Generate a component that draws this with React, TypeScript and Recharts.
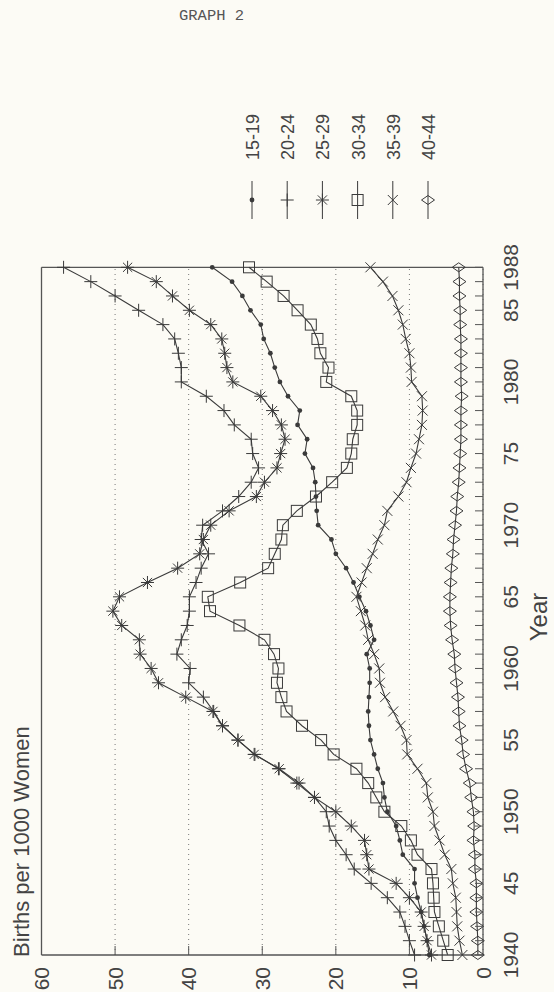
import React from 'react';
import { LineChart, Line, XAxis, YAxis, CartesianGrid, ReferenceLine, Legend } from 'recharts';

const years = [
  1940, 1941, 1942, 1943, 1944, 1945, 1946, 1947, 1948, 1949,
  1950, 1951, 1952, 1953, 1954, 1955, 1956, 1957, 1958, 1959,
  1960, 1961, 1962, 1963, 1964, 1965, 1966, 1967, 1968, 1969,
  1970, 1971, 1972, 1973, 1974, 1975, 1976, 1977, 1978, 1979,
  1980, 1981, 1982, 1983, 1984, 1985, 1986, 1987, 1988,
];

const age15to19 = [
  7.3, 7.6, 8.0, 8.4, 8.9, 9.3, 9.3, 10.9, 11.3, 11.8,
  13.0, 13.4, 13.6, 14.3, 14.8, 15.3, 15.5, 15.6, 15.5, 15.4,
  15.4, 15.8, 14.8, 15.3, 15.9, 16.8, 17.6, 18.6, 20.0, 20.6,
  22.4, 22.6, 22.7, 22.8, 23.1, 24.2, 23.9, 25.2, 24.9, 26.5,
  27.6, 28.3, 28.9, 29.8, 30.2, 31.6, 32.7, 34.1, 36.8,
];

const age20to24 = [
  9.3, 10.0, 10.6, 11.3, 13.0, 15.2, 17.5, 18.6, 20.0, 20.9,
  21.3, 22.9, 25.3, 27.8, 31.0, 33.3, 35.4, 36.6, 38.0, 40.0,
  39.8, 41.6, 41.0, 40.2, 39.9, 39.9, 39.0, 38.3, 37.3, 38.3,
  38.1, 35.4, 33.2, 31.5, 30.5, 31.3, 31.5, 33.8, 35.2, 37.6,
  41.0, 41.0, 41.4, 41.9, 43.5, 46.8, 50.0, 53.3, 57.0,
];

const age25to29 = [
  7.0, 7.6, 8.0, 8.4, 10.0, 11.8, 15.5, 15.8, 16.1, 17.9,
  20.0, 22.9, 25.0, 27.7, 31.1, 33.3, 35.4, 36.7, 40.4, 44.1,
  45.1, 46.6, 46.7, 49.1, 50.3, 49.4, 45.6, 41.5, 38.5, 38.0,
  37.0, 34.5, 30.8, 29.7, 28.0, 27.5, 26.9, 27.4, 28.6, 30.2,
  34.0, 34.8, 35.1, 35.5, 37.0, 39.9, 42.2, 44.4, 48.3,
];

const age30to34 = [
  4.8, 5.4, 6.0, 6.6, 6.7, 6.8, 7.0, 8.9, 9.8, 11.1,
  13.4, 14.5, 15.6, 17.2, 20.3, 22.0, 24.6, 26.7, 27.4, 28.0,
  27.8, 28.4, 29.7, 33.1, 37.1, 37.4, 33.0, 29.2, 28.3, 27.4,
  27.2, 25.3, 22.7, 20.5, 18.5, 17.9, 17.7, 17.1, 17.1, 17.9,
  21.3, 21.0, 22.1, 22.5, 23.4, 25.2, 27.1, 29.4, 31.8,
];

const age35to39 = [
  2.8, 3.2, 3.5, 3.6, 3.7, 4.1, 4.3, 5.2, 5.9, 6.6,
  6.8, 7.5, 7.7, 8.9, 10.3, 10.4, 11.2, 12.2, 13.3, 14.0,
  14.1, 14.8, 15.6, 16.0, 16.6, 17.2, 16.5, 15.8, 15.0, 14.3,
  13.4, 13.0, 11.5, 10.4, 9.8, 9.1, 8.7, 8.3, 8.2, 8.3,
  9.7, 9.8, 10.0, 10.5, 10.9, 11.5, 12.3, 13.6, 15.3,
];

const age40to44 = [
  0.7, 0.7, 0.8, 0.9, 0.9, 0.9, 1.1, 1.1, 1.3, 1.2,
  1.3, 1.6, 1.8, 2.3, 2.7, 2.9, 3.2, 3.3, 3.4, 3.6,
  3.8, 3.9, 4.2, 4.4, 4.5, 4.5, 4.4, 4.3, 4.1, 4.0,
  3.8, 3.6, 3.5, 3.3, 3.2, 3.1, 3.0, 3.0, 3.0, 2.9,
  3.0, 3.0, 3.0, 3.0, 3.1, 3.1, 3.2, 3.2, 3.3,
];

const seriesNames = ['15-19', '20-24', '25-29', '30-34', '35-39', '40-44'];
const seriesKeys = ['a15', 'a20', 'a25', 'a30', 'a35', 'a40'];
const seriesMarkers = ['dot', 'plus', 'star', 'square', 'cross', 'diamond'];

const yearLabelValues = [1940, 1945, 1950, 1955, 1960, 1965, 1970, 1975, 1980, 1985, 1988];
const yearLabelTexts = ['1940', '45', '1950', '55', '1960', '65', '1970', '75', '1980', '85', '1988'];
const valueTicks = [0, 10, 20, 30, 40, 50, 60];

const data = years.map((year, i) => ({
  year,
  a15: age15to19[i],
  a20: age20to24[i],
  a25: age25to29[i],
  a30: age30to34[i],
  a35: age35to39[i],
  a40: age40to44[i],
}));

const INK = '#3a3a3a';
const FRAME = '#555';
const FONT = '"Liberation Sans", Arial, Helvetica, sans-serif';

function Marker({ kind, cx, cy }: { kind: string; cx: number; cy: number }) {
  if (cx == null || cy == null || isNaN(cx) || isNaN(cy)) return null;
  const sw = 1;
  switch (kind) {
    case 'dot':
      return <circle cx={cx} cy={cy} r={2.4} fill={INK} stroke="none" />;
    case 'plus':
      return (
        <path d={`M${cx - 6.5},${cy}H${cx + 6.5}M${cx},${cy - 6.5}V${cy + 6.5}`} stroke={INK} strokeWidth={sw} fill="none" />
      );
    case 'star': {
      const r = 6.5;
      const d = r * 0.7071;
      return (
        <path
          d={`M${cx - r},${cy}H${cx + r}M${cx},${cy - r}V${cy + r}M${cx - d},${cy - d}L${cx + d},${cy + d}M${cx - d},${cy + d}L${cx + d},${cy - d}`}
          stroke={INK}
          strokeWidth={sw}
          fill="none"
        />
      );
    }
    case 'square':
      return <rect x={cx - 5.5} y={cy - 5.5} width={11} height={11} stroke={INK} strokeWidth={sw} fill="none" />;
    case 'cross': {
      const r = 5;
      return (
        <path d={`M${cx - r},${cy - r}L${cx + r},${cy + r}M${cx - r},${cy + r}L${cx + r},${cy - r}`} stroke={INK} strokeWidth={sw} fill="none" />
      );
    }
    case 'diamond':
      return (
        <path d={`M${cx},${cy - 6.5}L${cx + 4.5},${cy}L${cx},${cy + 6.5}L${cx - 4.5},${cy}Z`} stroke={INK} strokeWidth={sw} fill="none" />
      );
    default:
      return null;
  }
}

function YearTick(props: any) {
  const { x, y, payload } = props;
  const idx = yearLabelValues.indexOf(payload.value);
  return (
    <g>
      <line x1={x} y1={y} x2={x} y2={y - 8} stroke={FRAME} strokeWidth={1} />
      {idx >= 0 && (
        <text x={x} y={y + 27} textAnchor="middle" dominantBaseline="central" fontSize={21} fontFamily={FONT} fill="#444">
          {yearLabelTexts[idx]}
        </text>
      )}
    </g>
  );
}

function ValueTick(props: any) {
  const { x, y, payload } = props;
  const v = payload.value;
  return (
    <g>
      {v > 0 && v < 60 && <line x1={x} y1={y} x2={x + 9} y2={y} stroke={FRAME} strokeWidth={1} />}
      <text x={x - 12} y={y} textAnchor="end" dominantBaseline="central" fontSize={21} fontFamily={FONT} fill="#444">
        {String(v)}
      </text>
    </g>
  );
}

function LegendBox() {
  return (
    <svg width={160} height={230} style={{ display: 'block', overflow: 'visible' }}>
      {seriesNames.map((name, i) => {
        const y = 17 + i * 35.2;
        return (
          <g key={name}>
            <line x1={13} y1={y} x2={51} y2={y} stroke={INK} strokeWidth={1} />
            <Marker kind={seriesMarkers[i]} cx={32} cy={y} />
            <text x={72} y={y + 1} dominantBaseline="central" fontSize={18} fontFamily={FONT} fill="#444">
              {name}
            </text>
          </g>
        );
      })}
    </svg>
  );
}

export default function App() {
  return (
    <div
      style={{
        position: 'absolute',
        left: 0,
        top: 0,
        width: 554,
        height: 992,
        overflow: 'hidden',
        background: '#fcfbf5',
      }}
    >
      <div
        style={{
          position: 'absolute',
          left: 179,
          top: 7,
          fontFamily: '"Liberation Mono", "DejaVu Sans Mono", monospace',
          fontSize: 15.5,
          lineHeight: '18px',
          color: '#555',
          whiteSpace: 'pre',
        }}
      >
        GRAPH 2
      </div>
      <div
        style={{
          position: 'absolute',
          left: 0,
          top: 992,
          width: 992,
          height: 560,
          transform: 'rotate(-90deg)',
          transformOrigin: '0 0',
        }}
      >
        <LineChart
          width={992}
          height={560}
          data={data}
          margin={{ top: 41.5, right: 267.3, left: 0, bottom: 0 }}
        >
          <CartesianGrid vertical={false} stroke="#777" strokeDasharray="1 4" strokeWidth={1} />
          <XAxis
            dataKey="year"
            type="number"
            domain={[1940, 1988]}
            ticks={years}
            interval={0}
            height={77}
            tickSize={0}
            tickMargin={0}
            tick={<YearTick />}
            axisLine={{ stroke: FRAME, strokeWidth: 1.3 }}
            tickLine={false}
            label={{
              content: () => (
                <text x={375} y={547} textAnchor="middle" fontSize={24} fontFamily={FONT} fill="#444">
                  Year
                </text>
              ),
            }}
          />
          <YAxis
            type="number"
            domain={[0, 60]}
            ticks={valueTicks}
            interval={0}
            width={37}
            tickSize={0}
            tickMargin={0}
            tick={<ValueTick />}
            axisLine={{ stroke: FRAME, strokeWidth: 1.3 }}
            tickLine={false}
            label={{
              content: () => (
                <text x={35} y={29} textAnchor="start" fontSize={22} fontFamily={FONT} fill="#444">
                  Births per 1000 Women
                </text>
              ),
            }}
          />
          <ReferenceLine y={60} stroke={FRAME} strokeWidth={1.3} />
          <ReferenceLine x={1988} stroke={FRAME} strokeWidth={1.3} />
          {seriesKeys.map((key, i) => (
            <Line
              key={key}
              dataKey={key}
              name={seriesNames[i]}
              type="linear"
              stroke={INK}
              strokeWidth={1.1}
              isAnimationActive={false}
              activeDot={false}
              dot={(p: any) => <Marker key={`${key}-${p.index}`} kind={seriesMarkers[i]} cx={p.cx} cy={p.cy} />}
            />
          ))}
          <Legend
            layout="vertical"
            align="center"
            verticalAlign="middle"
            wrapperStyle={{ left: 760, top: 235, width: 160, height: 230, right: 'auto', bottom: 'auto' }}
            content={() => <LegendBox />}
          />
        </LineChart>
      </div>
    </div>
  );
}
